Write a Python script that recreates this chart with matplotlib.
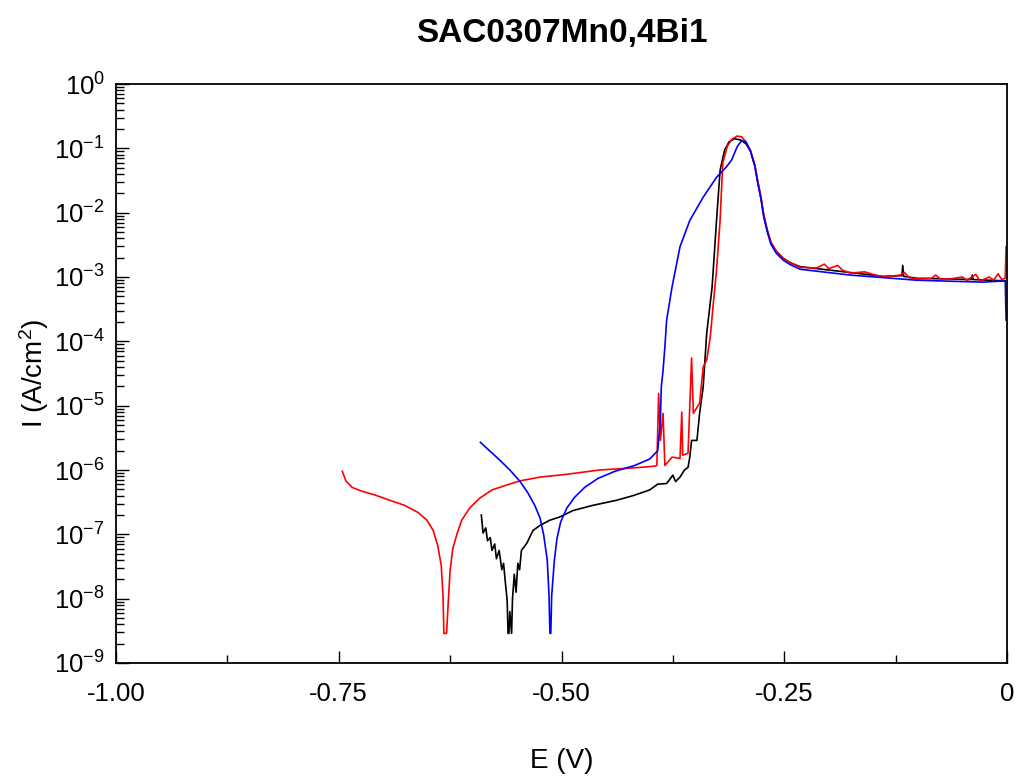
import numpy as np
import matplotlib
matplotlib.use("Agg")
import matplotlib.pyplot as plt
from matplotlib.ticker import LogLocator, FixedLocator, NullFormatter

plt.rcParams['font.family'] = ['Liberation Sans', 'DejaVu Sans']
plt.rcParams['mathtext.fontset'] = 'custom'
plt.rcParams['mathtext.rm'] = 'Liberation Sans'
plt.rcParams['mathtext.it'] = 'Liberation Sans:italic'
plt.rcParams['mathtext.bf'] = 'Liberation Sans:bold'
plt.rcParams['axes.unicode_minus'] = False

# potential (V) and log10 of current density (A/cm2)
black_E = [-0.590, -0.588, -0.585, -0.583, -0.580, -0.578, -0.575, -0.573, -0.570, -0.567,
           -0.565, -0.563, -0.561, -0.560, -0.559, -0.558, -0.556, -0.555, -0.553, -0.551,
           -0.549, -0.547, -0.545, -0.539, -0.532, -0.524, -0.513, -0.502, -0.487, -0.465,
           -0.438, -0.420, -0.401, -0.392, -0.382, -0.375, -0.372, -0.367, -0.362, -0.358,
           -0.356, -0.354, -0.348, -0.345, -0.341, -0.337, -0.331, -0.326, -0.322, -0.317,
           -0.312, -0.306, -0.299, -0.293, -0.288, -0.283, -0.280, -0.276, -0.273, -0.269,
           -0.265, -0.259, -0.251, -0.243, -0.232, -0.176,
           -0.139, -0.118, -0.117, -0.116, -0.101, -0.064, -0.040, -0.039, -0.038, -0.002]
black_logI = [-6.70, -6.98, -6.90, -7.10, -7.05, -7.25, -7.15, -7.38, -7.25, -7.55,
              -7.45, -7.75, -8.02, -8.54, -8.54, -8.20, -8.54, -8.00, -7.62, -7.90,
              -7.45, -7.55, -7.25, -7.14, -6.94, -6.86, -6.78, -6.73, -6.63, -6.55,
              -6.47, -6.40, -6.31, -6.22, -6.21, -6.08, -6.18, -6.11, -6.00, -5.96,
              -5.80, -5.54, -5.54, -5.12, -4.71, -3.87, -3.16, -2.12, -1.34, -1.03,
              -0.90, -0.85, -0.87, -0.93, -1.04, -1.27, -1.50, -1.78, -2.04, -2.28,
              -2.46, -2.60, -2.71, -2.78, -2.84, -2.93,
              -2.99, -2.98, -2.82, -2.99, -3.02, -3.03, -3.04, -2.97, -3.04, -3.06]

red_E = [-0.746, -0.742, -0.735, -0.724, -0.709, -0.693, -0.676, -0.661, -0.651, -0.644,
         -0.639, -0.635, -0.633, -0.632, -0.629, -0.627, -0.625, -0.622, -0.617, -0.612,
         -0.603, -0.592, -0.578, -0.563, -0.547, -0.524, -0.496, -0.457, -0.412, -0.395,
         -0.393, -0.391, -0.389, -0.386, -0.384, -0.376, -0.367,
         -0.365, -0.364, -0.358, -0.354, -0.352, -0.345, -0.341, -0.337, -0.333, -0.330,
         -0.326, -0.322, -0.319, -0.314, -0.309, -0.303, -0.298, -0.293, -0.288, -0.283,
         -0.280, -0.276, -0.273, -0.269, -0.265, -0.259, -0.251, -0.243,
         -0.232, -0.214, -0.205, -0.200, -0.190, -0.185, -0.176, -0.160,
         -0.150, -0.139, -0.120, -0.115, -0.110, -0.101, -0.085, -0.080, -0.075, -0.064,
         -0.050, -0.045, -0.035, -0.030, -0.020, -0.015, -0.010, -0.006, -0.002, -0.001]
red_logI = [-6.02, -6.17, -6.27, -6.33, -6.39, -6.47, -6.55, -6.66, -6.78, -6.94,
            -7.17, -7.48, -7.95, -8.54, -8.54, -8.03, -7.56, -7.22, -6.98, -6.78,
            -6.59, -6.44, -6.31, -6.24, -6.17, -6.11, -6.07, -6.00, -5.96, -5.94,
            -5.93, -4.81, -5.54, -5.12, -5.93, -5.80, -5.82,
            -5.10, -5.77, -5.74, -4.26, -5.12, -4.96, -4.40, -4.29, -3.93, -3.47,
            -2.89, -2.12, -1.23, -0.97, -0.86, -0.81, -0.82, -0.90, -1.03, -1.26,
            -1.49, -1.77, -2.04, -2.27, -2.46, -2.60, -2.71, -2.78,
            -2.85, -2.86, -2.80, -2.87, -2.82, -2.89, -2.94, -2.92,
            -2.96, -3.00, -2.97, -2.93, -3.01, -3.03, -3.02, -2.97, -3.03, -3.03,
            -3.00, -3.05, -2.96, -3.06, -3.00, -3.05, -2.95, -3.04, -3.02, -2.53]

blue_E = [-0.591, -0.580, -0.569, -0.558, -0.547, -0.538, -0.530, -0.524, -0.520, -0.516,
          -0.514, -0.513, -0.512, -0.511, -0.508, -0.505, -0.501, -0.494, -0.485, -0.474,
          -0.459, -0.440, -0.418, -0.401, -0.392, -0.389, -0.388, -0.386, -0.384, -0.382,
          -0.376, -0.367, -0.356, -0.341, -0.326, -0.315, -0.309, -0.303, -0.298, -0.293,
          -0.288, -0.283, -0.280, -0.276, -0.273, -0.269, -0.265, -0.259, -0.251, -0.243,
          -0.232, -0.176, -0.101, -0.027, -0.002, -0.001]
blue_logI = [-5.57, -5.71, -5.85, -6.00, -6.17, -6.35, -6.55, -6.75, -7.01, -7.40,
             -7.95, -8.54, -8.54, -7.95, -7.40, -7.06, -6.81, -6.59, -6.42, -6.27,
             -6.13, -6.02, -5.93, -5.83, -5.70, -5.23, -4.71, -4.45, -4.09, -3.67,
             -3.16, -2.53, -2.12, -1.76, -1.45, -1.29, -1.18, -0.98, -0.88, -0.90,
             -1.04, -1.28, -1.52, -1.80, -2.07, -2.30, -2.49, -2.63, -2.74, -2.81,
             -2.88, -2.97, -3.05, -3.08, -3.06, -3.67]

x_ticks = [-1.0, -0.75, -0.5, -0.25, 0.0]
x_tick_labels = ['-1.00', '-0.75', '-0.50', '-0.25', '0']

fig = plt.figure(figsize=(10.18, 7.76), dpi=100)
ax = fig.add_axes([116 / 1018, 1 - 663 / 776, 891 / 1018, 579 / 776])

ax.plot(black_E, np.power(10.0, black_logI), color='black', lw=1.2)
ax.plot(red_E, np.power(10.0, red_logI), color='red', lw=1.2)
ax.plot(blue_E, np.power(10.0, blue_logI), color='blue', lw=1.2)

ax.set_yscale('log')
ax.set_xlim(-1.0, 0.0)
ax.set_ylim(1e-9, 1e0)

ax.yaxis.set_major_locator(LogLocator(base=10, numticks=20))
ax.yaxis.set_minor_locator(LogLocator(base=10, subs=np.arange(2, 10), numticks=20))
ax.yaxis.set_minor_formatter(NullFormatter())
ax.xaxis.set_major_locator(FixedLocator(x_ticks))
ax.set_xticklabels(x_tick_labels)
ax.xaxis.set_minor_locator(FixedLocator([-0.875, -0.625, -0.375, -0.125]))

ax.tick_params(which='both', direction='in', top=False, right=False, width=1.0)
ax.tick_params(which='major', length=9)
ax.tick_params(which='minor', length=6)
ax.tick_params(axis='x', which='major', labelsize=18.5, pad=14)
ax.tick_params(axis='y', which='major', labelsize=18.5, pad=8)

for sp in ax.spines.values():
    sp.set_linewidth(1.3)

ax.set_xlabel('E (V)', fontsize=20, labelpad=30)
ax.set_ylabel('I (A/cm$^2$)', fontsize=20, labelpad=2)
ax.set_title('SAC0307Mn0,4Bi1', fontsize=24, fontweight='bold', pad=30)

fig.savefig('out.png', dpi=100)
